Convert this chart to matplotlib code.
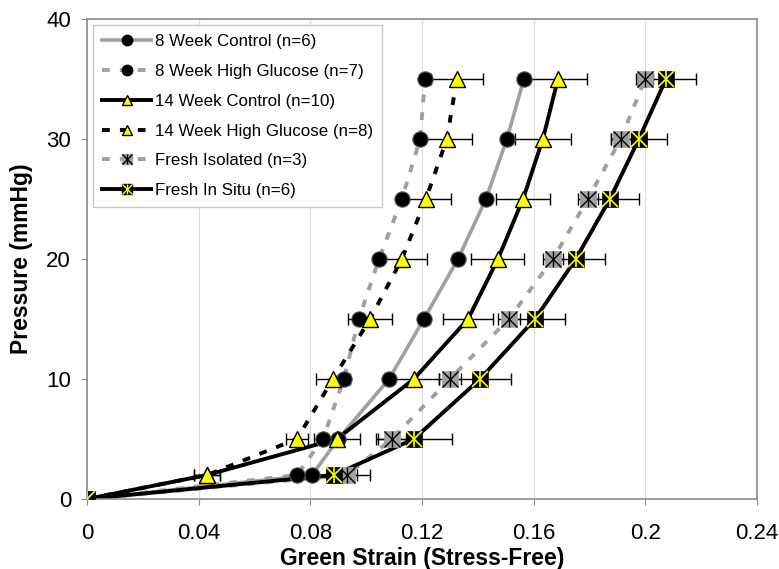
import matplotlib
matplotlib.use("Agg")
import matplotlib.pyplot as plt
from matplotlib.lines import Line2D
from matplotlib.legend_handler import HandlerTuple

plt.rcParams['font.family'] = ['Liberation Sans', 'DejaVu Sans']

pressure = [0, 2, 5, 10, 15, 20, 25, 30, 35]

wk8_control = [0, 0.0806, 0.0900, 0.1082, 0.1207, 0.1329, 0.1429, 0.1504, 0.1565]
wk8_glucose = [0, 0.0752, 0.0845, 0.0920, 0.0974, 0.1046, 0.1128, 0.1193, 0.1211]
wk14_control = [0, 0.0430, 0.0895, 0.1171, 0.1365, 0.1472, 0.1562, 0.1633, 0.1687]
wk14_control_err = [0, 0.0045, 0.0083, 0.0090, 0.0090, 0.0095, 0.0097, 0.0100, 0.0103]
wk14_glucose = [0, 0.0430, 0.0752, 0.0881, 0.1014, 0.1128, 0.1214, 0.1289, 0.1325]
wk14_glucose_err = [0, 0.0045, 0.0040, 0.0060, 0.0080, 0.0090, 0.0090, 0.0090, 0.0093]
fresh_isolated = [0, 0.0931, 0.1092, 0.1300, 0.1511, 0.1669, 0.1794, 0.1912, 0.1999]
fresh_isolated_err = [0, 0.0035, 0.0050, 0.0040, 0.0040, 0.0035, 0.0035, 0.0035, 0.0030]
fresh_insitu = [0, 0.0885, 0.1171, 0.1408, 0.1605, 0.1751, 0.1873, 0.1977, 0.2074]
fresh_insitu_err = [0, 0.0130, 0.0136, 0.0110, 0.0107, 0.0104, 0.0104, 0.0100, 0.0106]

labels = ["8 Week Control (n=6)", "8 Week High Glucose (n=7)", "14 Week Control (n=10)",
          "14 Week High Glucose (n=8)", "Fresh Isolated (n=3)", "Fresh In Situ (n=6)"]
xticks = [0, 0.04, 0.08, 0.12, 0.16, 0.2, 0.24]
xticklabels = ["0", "0.04", "0.08", "0.12", "0.16", "0.2", "0.24"]
yticks = [0, 10, 20, 30, 40]

GRAY = '#a0a0a0'
YEL = '#ffff00'
SPINE = '#8c8c8c'
dash = (0, (2.0, 2.6))

fig = plt.figure(figsize=(7.79, 5.69), dpi=100)
ax = fig.add_axes([87/779, 1-499/569, 670/779, 480/569])

ax.set_xlim(0, 0.24)
ax.set_ylim(0, 40)

# lines
ax.plot(wk8_control, pressure, color=GRAY, lw=2.6, zorder=2)
ax.plot(wk8_glucose, pressure, color=GRAY, lw=2.8, linestyle=dash, zorder=2)
ax.plot(wk14_control, pressure, color='black', lw=2.8, zorder=2)
ax.plot(wk14_glucose, pressure, color='black', lw=2.8, linestyle=dash, zorder=2)
ax.plot(fresh_isolated, pressure, color=GRAY, lw=2.8, linestyle=dash, zorder=2)
ax.plot(fresh_insitu, pressure, color='black', lw=2.8, zorder=2)

# error bars
for xs, es in [(wk14_control, wk14_control_err), (wk14_glucose, wk14_glucose_err),
               (fresh_isolated, fresh_isolated_err), (fresh_insitu, fresh_insitu_err)]:
    ax.errorbar(xs, pressure, xerr=es, fmt='none', ecolor='black', elinewidth=1.0,
                capsize=4.5, capthick=1.0, zorder=3)

ms = 11
# markers
ax.plot(wk8_control, pressure, 'o', ms=ms, mfc='black', mec='#555555', mew=0.8, zorder=4)
ax.plot(wk8_glucose, pressure, 'o', ms=ms, mfc='black', mec='#555555', mew=0.8, zorder=4)
ax.plot(wk14_control, pressure, '^', ms=12, mfc=YEL, mec='black', mew=1.0, zorder=5)
ax.plot(wk14_glucose, pressure, '^', ms=12, mfc=YEL, mec='black', mew=1.0, zorder=5)
ax.plot(fresh_isolated, pressure, 's', ms=ms, mfc=GRAY, mec=GRAY, mew=0.5, zorder=5)
ax.plot(fresh_isolated, pressure, 'x', ms=ms, mec='black', mew=1.0, zorder=6)
ax.plot(fresh_isolated, pressure, '|', ms=ms, mec='black', mew=1.0, zorder=6)
ax.plot(fresh_insitu, pressure, 's', ms=ms, mfc='black', mec='black', mew=0.5, zorder=7)
ax.plot(fresh_insitu, pressure, 'x', ms=ms, mec=YEL, mew=1.2, zorder=8)
ax.plot(fresh_insitu, pressure, '|', ms=ms, mec=YEL, mew=1.2, zorder=8)

# axes styling
ax.set_xticks(xticks)
ax.set_xticklabels(xticklabels)
ax.set_yticks(yticks)
ax.grid(axis='x', color='#dcdcdc', lw=0.8, zorder=0)
ax.set_axisbelow(True)
for s in ax.spines.values():
    s.set_color(SPINE)
    s.set_linewidth(1.2)
ax.tick_params(axis='both', direction='out', length=4.5, width=0.8, color=SPINE,
               labelsize=16, labelcolor='black')
ax.tick_params(axis='x', pad=13)
ax.tick_params(axis='y', pad=7)

ax.set_xlabel("Green Strain (Stress-Free)", fontsize=16.5, fontweight='bold')
ax.set_ylabel("Pressure (mmHg)", fontsize=16.5, fontweight='bold')
ax.xaxis.set_label_coords(0.5, -0.099)
ax.yaxis.set_label_coords(-0.080, 0.5)

# legend
lms = 7.5
h1 = Line2D([], [], color=GRAY, lw=2.6, marker='o', ms=lms, mfc='black', mec='black')
h2 = Line2D([], [], color=GRAY, lw=2.8, linestyle=dash, marker='o', ms=lms, mfc='black', mec='black')
h3 = Line2D([], [], color='black', lw=2.8, marker='^', ms=lms, mfc=YEL, mec='black')
h4 = Line2D([], [], color='black', lw=2.8, linestyle=dash, marker='^', ms=lms, mfc=YEL, mec='black')
h5 = (Line2D([], [], color=GRAY, lw=2.8, linestyle=dash, marker='s', ms=lms, mfc=GRAY, mec=GRAY),
      Line2D([], [], ls='none', marker='x', ms=lms, mec='black', mew=1.0),
      Line2D([], [], ls='none', marker='|', ms=lms, mec='black', mew=1.0))
h6 = (Line2D([], [], color='black', lw=2.8, marker='s', ms=lms, mfc='black', mec='black'),
      Line2D([], [], ls='none', marker='x', ms=lms, mec=YEL, mew=1.0),
      Line2D([], [], ls='none', marker='|', ms=lms, mec=YEL, mew=1.0))
fs_leg = 12.2
leg = ax.legend([h1, h2, h3, h4, h5, h6], labels, loc='upper left',
                bbox_to_anchor=(6/670, 1 - 6/480), borderaxespad=0,
                fontsize=fs_leg, handlelength=2.9, handletextpad=0.2,
                labelspacing=0.87, borderpad=0.55, fancybox=False, framealpha=1,
                edgecolor='#c8c8c8',
                handler_map={tuple: HandlerTuple(ndivide=1, pad=0)})
leg.get_frame().set_linewidth(1.0)
leg.set_zorder(10)

fig.savefig("out.png", dpi=100)
